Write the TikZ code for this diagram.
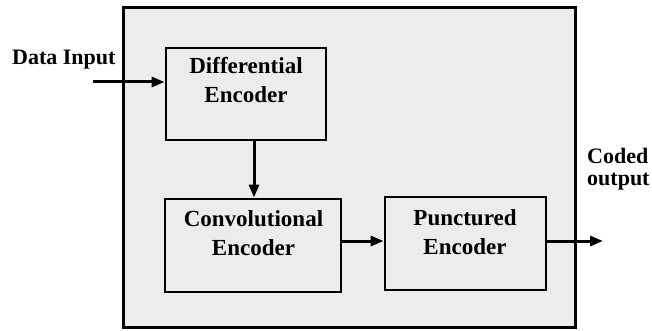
\documentclass[tikz,border=0pt]{standalone}
\usepackage{fontspec}
\setmainfont{Liberation Serif}
\usetikzlibrary{arrows.meta}
\definecolor{panel}{RGB}{236,236,236}
\tikzset{
  wire/.style={line width=3pt, -{Triangle[length=13pt,width=10pt]}},
  blockbox/.style={draw, line width=2.8pt, fill=panel, inner sep=0pt},
  lbl/.style={font=\bfseries\fontsize{23}{29}\selectfont, align=center, inner sep=0pt, anchor=base},
  sidelbl/.style={font=\bfseries\fontsize{22}{22}\selectfont, align=left, inner sep=0pt, anchor=base west},
}
\begin{document}
\begin{tikzpicture}[x=1pt, y=-1pt]
  \useasboundingbox (0,0) rectangle (652,331);
  % enclosing panel
  \node[draw, line width=3pt, fill=panel, inner sep=0pt, minimum width=452pt, minimum height=319pt] (frame) at (349,167.5) {};
  % encoder stages
  \node[blockbox, minimum width=160pt, minimum height=92pt] (diff) at (246,94) {};
  \node[blockbox, minimum width=176pt, minimum height=93pt] (conv) at (253,245.5) {};
  \node[blockbox, minimum width=161pt, minimum height=93pt] (punc) at (465.5,243.5) {};
  % text, anchored on the baseline of its last line
  \node[lbl] (difft) at (246,103) {Differential\\Encoder};
  \node[lbl] (convt) at (253.5,255) {Convolutional\\Encoder};
  \node[lbl] (punct) at (465,254) {Punctured\\Encoder};
  % input and output labels
  \node[sidelbl] (inlbl) at (12,65) {Data Input};
  \node[sidelbl] (outlbl) at (587,185) {Coded\\output};
  \coordinate (src) at (93,82);
  \coordinate (dst) at (603,241);
  % signal flow
  \draw[wire] (src) -- (src -| diff.west);
  \draw[wire] (diff.south -| 254,0) -- (conv.north -| 254,0);
  \draw[wire] (conv.east |- 0,241) -- (punc.west |- 0,241);
  \draw[wire] (punc.east |- 0,241) -- (dst);
\end{tikzpicture}
\end{document}
